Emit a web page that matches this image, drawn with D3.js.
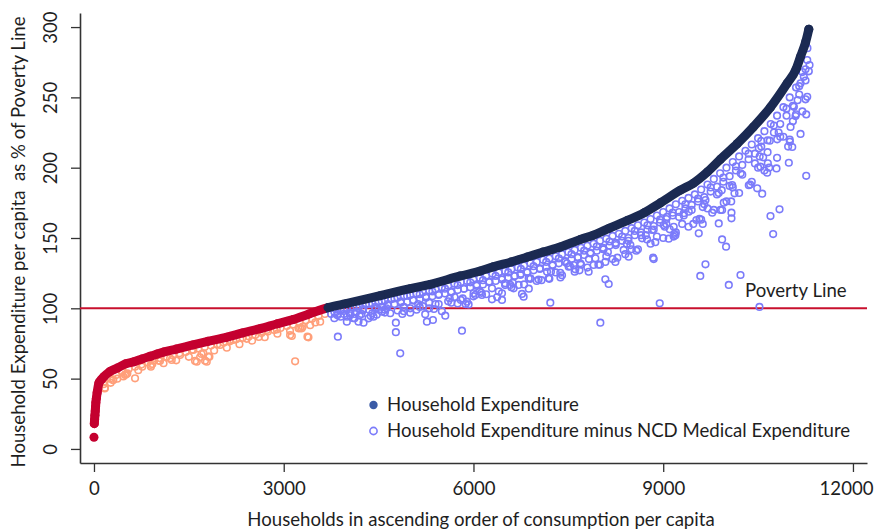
<!DOCTYPE html>
<html><head><meta charset="utf-8">
<script src="https://cdn.jsdelivr.net/npm/d3@7"></script>
<style>
body{margin:0;background:#fff;}
svg text{font-family:Lato,"Open Sans",sans-serif;fill:#1e1e1e;}
</style></head><body>
<svg id="chart" width="875" height="532"></svg>
<script>
// Household expenditure per capita (% of poverty line), households sorted ascending
const curvePoints = [[0,8.3],[5,18],[10,21],[15,24],[20,27],[25,30],[30,33],[38,36],[50,40],[79,47],[120,49.5],[158,51.4],[250,55],[369,57.5],[500,60.5],[633,62],[760,64],[897,66],[1000,67.5],[1108,69],[1300,71],[1566,74],[1800,76.5],[2104,79.5],[2350,82.5],[2627,85.5],[2900,89],[3149,92],[3400,96],[3700,100.5],[4000,103.5],[4525,109],[5000,114],[5316,117],[5791,123],[6108,126.5],[6313,129.5],[6600,133],[6851,136.5],[7100,140],[7373,143.6],[7690,149],[7896,152],[8150,157],[8434,162.5],[8700,168],[8956,175],[9272,184],[9478,189],[9700,197],[9905,206],[10169,217],[10427,229],[10696,243],[10960,260],[11100,270],[11171,279],[11250,289],[11302,298.5]];

// Expenditure minus NCD medical expenditure: households below the poverty line
const hollowPoor = [[169,43],[174,43.5],[264,47],[306,49],[369,50],[464,51.5],[490,52.6],[517,53.3],[528,53.8],[649,50.2],[764,58.5],[897,59.7],[923,60.4],[1028,62.8],[1044,62.6],[1203,64.5],[1229,63.3],[1361,66.8],[1571,70.4],[1598,62.6],[1625,62],[1677,65.2],[1730,68],[1756,62.8],[1783,62],[1809,65.6],[1825,65.6],[1994,74],[2152,77.5],[2204,77.5],[2416,78.3],[2606,79.6],[2733,84.6],[2890,85],[3101,81],[3128,80.3],[3180,62.3],[3233,85.8],[3259,85.8],[3286,85.8],[3375,79.8],[3391,79.4],[3418,88],[3576,90.5],
[150,46],[250,50],[350,52.5],[450,55],[550,57],[650,58.5],[750,60],[850,61.5],[950,63],[1050,64.5],[1150,65.5],[1250,66.5],[1350,68],[1450,69],[1550,70.5],[1650,71.5],[1750,72.5],[1850,73.5],[1950,74.5],[2050,75.5],[2150,76.5],[2250,78],[2350,79],[2450,80],[2550,81],[2650,82.5],[2750,83.5],[2850,84.5],[2950,86],[3050,87.5],[3150,88.5],[3250,90],[3350,91.5],[3450,92.5],[3550,94.5],[3650,96],
[300,49],[500,53],[700,56],[900,58.5],[1100,61],[1300,63],[1500,65.5],[1700,67.5],[1900,70],[2100,72],[2300,74.5],[2500,77],[2700,79.5],[2900,82],[3100,84],[3300,87],[3500,90]];

// Expenditure minus NCD medical expenditure: households above the poverty line
const hollowNonPoor = [[3856,79.8],[3998,90.5],[4182,90.5],[4262,89.8],[4341,92.9],[4420,94],[4552,97.6],[4684,96.5],[4773,89.8],[4773,83],[4842,68],[5000,96.9],[5237,95.8],[5264,90.5],[5359,91.7],[5554,94.8],[5818,84.1],[5897,104.7],[5923,102.8],[6002,110.7],[6029,109.5],[6134,109.5],[6293,106.4],[6293,114.2],[6451,106],[6451,110.7],[6503,117.8],[6582,116.6],[6635,114.2],[6714,116.6],[6767,110.2],[6793,108.3],[6741,123.7],[6873,121.3],[6899,121.3],[7030,120.5],[7163,126],[7188,121.3],[7215,104],[7373,125.3],[7479,132],[7505,129.6],[7584,130.8],[7611,127.7],[7690,132],[7821,126],[7900,130.8],[7927,135.6],[8006,89.8],[8058,142],[8085,133],[8085,120.6],[8138,117.3],[8244,133],[8244,146.2],[8375,141.5],[8454,136.7],[8481,145],[8666,149.8],[8745,149],[8824,155.7],[8840,136],[8850,135],[8945,103.6],[9008,159.2],[9061,165],[9087,149.5],[9103,156.2],[9166,158],[9166,151],[9193,152],[9325,167.6],[9404,168.7],[9525,162.8],[9562,153.3],[9573,163.7],[9586,123],[9625,160],[9668,131.3],[9668,177],[9878,182],[9878,160.4],[9905,170],[9931,149],[9931,169.9],[9957,175.1],[9994,143.8],[10037,116.6],[10079,168],[10079,164],[10090,187.7],[10127,181.8],[10222,123.7],[10353,187.5],[10486,185.3],[10511,213.8],[10522,101],[10538,200.7],[10565,181.5],[10580,207.4],[10644,196.4],[10654,203.1],[10685,219.2],[10696,165.6],[10738,152.8],[10791,199.5],[10802,220.2],[10839,170.4],[10986,203.5],[11002,218.5],[11013,229],[11040,214.7],[11066,243.3],[11092,236.7],[11171,224],[11171,260],[11223,264.6],[11250,248.6],[11261,237.9],[11261,194.2],[11277,250.4],[11277,276.5],[11302,268.5],[11313,273],
[3750,96],[3800,93],[3900,94],[4050,95],[4120,93],[4230,96],[4470,95.5],[4600,99],[4900,98],[5100,99],[5150,101],[5300,100],[5450,103],[5500,98],[5650,104],[5750,103.5],[5830,107],
[3800,97.5],[3900,98.5],[4000,99.5],[4100,100.5],[4200,101.5],[4300,102.5],[4400,103.5],[4500,104.5],[4600,105.5],[4700,106.5],[4800,107.5],[4900,108.5],[5000,109.5],[5100,110.5],[5200,111.5],[5300,112.5],[5400,113.5],[5500,115],[5600,116],[5700,117.5],[5800,118.5],[5900,119.5],[6000,120.5],[6100,121.5],[6200,123],[6300,124.5],[6400,125.5],[6500,126.5],[6600,128],[6700,129],[6800,130.5],[6900,132],[7000,133],[7100,134.5],[7200,135.5],[7300,137],[7400,138.5],[7500,140],[7600,141.5],[7700,143],[7800,144.5],[7900,146],[8000,148],[8100,149.5],[8200,151.5],[8300,153],[8400,155],[8500,157],[8600,159],[8700,161],[8800,163.5],[8900,166],[9000,168.5],[9100,171],[9200,174],[9300,176.5],[9400,178.5],[9500,181],[9600,184.5],[9700,188],[9800,192],[9900,196],[10000,200],[10100,204],[10200,208],[10300,212],[10400,216.5],[10500,221],[10600,226],[10700,231],[10800,237],[10900,243],[11000,250],[11100,257],[11200,268],[11280,285],
[3850,95],[3950,96],[4050,96.5],[4150,97.5],[4250,98.5],[4350,99],[4450,100],[4550,101],[4650,102],[4750,103],[4850,104],[4950,104.5],[5050,105.5],[5150,106.5],[5250,107.5],[5350,108.5],[5450,109.5],[5550,110.5],[5650,111.5],[5750,113],[5850,114],[5950,115],[6050,116],[6150,117],[6250,118.5],[6350,119.5],[6450,120.5],[6550,122],[6650,123],[6750,124.5],[6850,125.5],[6950,127],[7050,128],[7150,129.5],[7250,130.5],[7350,132],[7450,133.5],[7550,135],[7650,136.5],[7750,138],[7850,139.5],[7950,141],[8050,143],[8150,144.5],[8250,146.5],[8350,148],[8450,150],[8550,152],[8650,154],[8750,156],[8850,158.5],[8950,161],[9050,163.5],[9150,166],[9250,168.5],[9350,171],[9450,173.5],[9550,176],[9650,179],[9750,183],[9850,186.5],[9950,190],[10050,194],[10150,198],[10250,202],[10350,206],[10450,210],[10550,215],[10650,219.5],[10750,225],[10850,231],[10950,237],[11050,244],[11150,252],[11250,262],
[4000,94],[4200,95],[4400,96.5],[4600,97],[4800,98.5],[5000,100],[5200,101.5],[5400,103],[5600,105],[5800,106],[6000,108.5],[6200,110],[6400,112],[6600,115],[6800,117],[7000,119.5],[7200,121],[7400,123.5],[7600,126],[7800,129],[8000,131],[8200,135],[8400,138.5],[8600,142],[8800,146],[9000,150],[9200,154],[9400,158],[9600,163],[9800,170],[10000,176],[10200,182],[10400,190],[10600,198],[10800,207],[11000,220],[11200,240],
[4100,93],[4500,99],[4900,101],[5300,104],[5700,108],[6100,112],[6500,116.5],[6900,121],[7300,125.5],[7700,131],[8100,137],[8500,142],[8900,151],[9300,160],[9700,171],[10100,186],[10500,200],[10900,222],[11100,238],
[3850,96],[3950,99],[4050,97],[4150,101],[4250,99.5],[4350,103],[4450,101],[4550,105],[4650,103],[4750,107],[4850,105],[4950,109],[5050,106],[5150,110],[5250,108.5],[5350,112],[5450,110],[5550,114],[5650,112],[5750,116.5],[5850,114],[5950,118.5],[6050,117],[6150,120],[6250,119],[6350,123],[6450,121.5],[6550,125.5],[6650,123],[6750,128],[6850,126],[6950,130],[7050,128.5],[7150,133],[7250,131],[7350,135.5],[7450,133],[7550,138.5],[7650,136],[7750,141],[7850,139],[7950,144],[8050,142],[8150,147.5],[8250,145],[8350,151],[8450,148],[8550,155],[8650,152],[8750,159],[8850,156],[8950,163],[9050,160],[9150,168],[9250,165],[9350,174],[9450,170],[9550,178],[9650,174],[9750,186],[9850,181],[9950,193],[10050,187],[10150,201],[10250,195],[10350,210],[10450,203],[10550,219],[10650,211],[10750,230],[10850,222],[10950,242],[11050,233],[11150,258],[11250,270],
[7075,120],[7225,126],[7375,122],[7525,130],[7675,127],[7825,135],[7975,131],[8125,140],[8275,136],[8425,146],[8575,141],[8725,152],[8875,147],[9025,158],[9175,153],[9325,166],[9475,160],[9625,172],[9775,168],[9925,184],[10075,176],[10225,196],[10375,188],[10525,208],[10675,200],[10825,225],[10975,215],[11125,248],
[4125,96],[4375,94.5],[4625,100],[4875,96],[5125,103],[5375,99.5],[5625,107],[5875,103],[6125,111],[6375,108],[6625,118],[6875,114]];

const xTicks = [0, 3000, 6000, 9000, 12000];
const yTicks = [0, 50, 100, 150, 200, 250, 300];
const povertyLine = 100;
const legendLabels = ["Household Expenditure", "Household Expenditure minus NCD Medical Expenditure"];
const xTitle = "Households in ascending order of consumption per capita";
const yTitle = "Household Expenditure per capita  as % of Poverty Line";
const lineLabel = "Poverty Line";

const C = {red:"#c4002f", navy:"#1b2a52", salmon:"#ff9f7a", blue:"#7b7bfa", pline:"#c8102e", legendFill:"#3b5ba6", axis:"#333"};
const FS = 18.6;

const svg = d3.select("#chart");
const x = d3.scaleLinear().domain([-221, 12222]).range([80, 867]);
const y = d3.scaleLinear().domain([-10, 310]).range([463, 13]);

// axes
const gx = svg.append("g").attr("transform","translate(0,463)")
  .call(d3.axisBottom(x).tickValues(xTicks).tickSize(9).tickSizeOuter(0).tickFormat(d3.format("d")));
gx.select(".domain").attr("stroke",C.axis).attr("stroke-width",1.6);
gx.selectAll(".tick line").attr("stroke",C.axis).attr("stroke-width",1.3);
gx.selectAll(".tick text").attr("y",32).attr("dy",0).style("font-size",FS+"px").attr("fill","#1e1e1e");
gx.selectAll(".tick text").filter(d=>d===12000).attr("text-anchor","end").attr("x",873-x(12000));

const gy = svg.append("g").attr("transform","translate(80,0)")
  .call(d3.axisLeft(y).tickValues(yTicks).tickSize(9).tickSizeOuter(0));
gy.select(".domain").attr("stroke",C.axis).attr("stroke-width",1.6);
gy.selectAll(".tick line").attr("stroke",C.axis).attr("stroke-width",1.3);
gy.selectAll(".tick text").attr("transform","rotate(-90)").attr("x",0).attr("y",-23).attr("dy",0)
  .attr("text-anchor","middle").style("font-size",FS+"px").attr("fill","#1e1e1e");
svg.selectAll(".tick text").style("font-family","Lato, 'Open Sans', sans-serif");

// poverty line
svg.append("line").attr("x1",80).attr("x2",867).attr("y1",y(povertyLine)).attr("y2",y(povertyLine))
  .attr("stroke",C.pline).attr("stroke-width",2);

// hollow points
svg.append("g").selectAll("circle").data(hollowPoor).join("circle")
  .attr("cx",d=>x(d[0])).attr("cy",d=>y(d[1])).attr("r",3.3)
  .attr("fill","none").attr("stroke",C.salmon).attr("stroke-width",1.6);
svg.append("g").selectAll("circle").data(hollowNonPoor).join("circle")
  .attr("cx",d=>x(d[0])).attr("cy",d=>y(d[1])).attr("r",3.3)
  .attr("fill","none").attr("stroke",C.blue).attr("stroke-width",1.6);

// curve split at poverty line
let cross = curvePoints[curvePoints.length-1][0];
for (let i=1;i<curvePoints.length;i++){
  const a=curvePoints[i-1], b=curvePoints[i];
  if (a[1]<povertyLine && b[1]>=povertyLine){ cross = a[0]+(povertyLine-a[1])/(b[1]-a[1])*(b[0]-a[0]); break; }
}
const defs = svg.append("defs");
defs.append("clipPath").attr("id","clipPoor").append("rect").attr("x",0).attr("y",0).attr("width",x(cross)).attr("height",532);
defs.append("clipPath").attr("id","clipRich").append("rect").attr("x",x(cross)).attr("y",0).attr("width",875).attr("height",532);
const line = d3.line().x(d=>x(d[0])).y(d=>y(d[1])).curve(d3.curveMonotoneX);
const linePts = curvePoints.slice(1);
svg.append("path").attr("d",line(linePts)).attr("fill","none").attr("stroke",C.red)
  .attr("stroke-width",9).attr("stroke-linecap","round").attr("stroke-linejoin","round").attr("clip-path","url(#clipPoor)");
svg.append("path").attr("d",line(linePts)).attr("fill","none").attr("stroke",C.navy)
  .attr("stroke-width",9).attr("stroke-linecap","round").attr("stroke-linejoin","round").attr("clip-path","url(#clipRich)");
svg.append("g").selectAll("circle").data(curvePoints).join("circle")
  .attr("cx",d=>x(d[0])).attr("cy",d=>y(d[1])).attr("r",4.5)
  .attr("fill",d=>d[1]<povertyLine?C.red:C.navy);

// poverty line label
svg.append("text").attr("x",745).attr("y",297).style("font-size",FS+"px").text(lineLabel);

// legend
const leg = svg.append("g");
leg.append("circle").attr("cx",373.5).attr("cy",405).attr("r",4.2).attr("fill",C.legendFill);
leg.append("circle").attr("cx",373.5).attr("cy",431).attr("r",3.6).attr("fill","none").attr("stroke",C.blue).attr("stroke-width",1.6);
leg.append("text").attr("x",387).attr("y",410.5).style("font-size",FS+"px").text(legendLabels[0]);
leg.append("text").attr("x",387).attr("y",437).style("font-size",FS+"px").text(legendLabels[1]);

// titles
svg.append("text").attr("x",481).attr("y",526).attr("text-anchor","middle").style("font-size",FS+"px").text(xTitle);
svg.append("text").attr("transform","translate(25,242) rotate(-90)").attr("text-anchor","middle")
  .style("font-size",FS+"px").style("white-space","pre").text(yTitle);
</script></body></html>
